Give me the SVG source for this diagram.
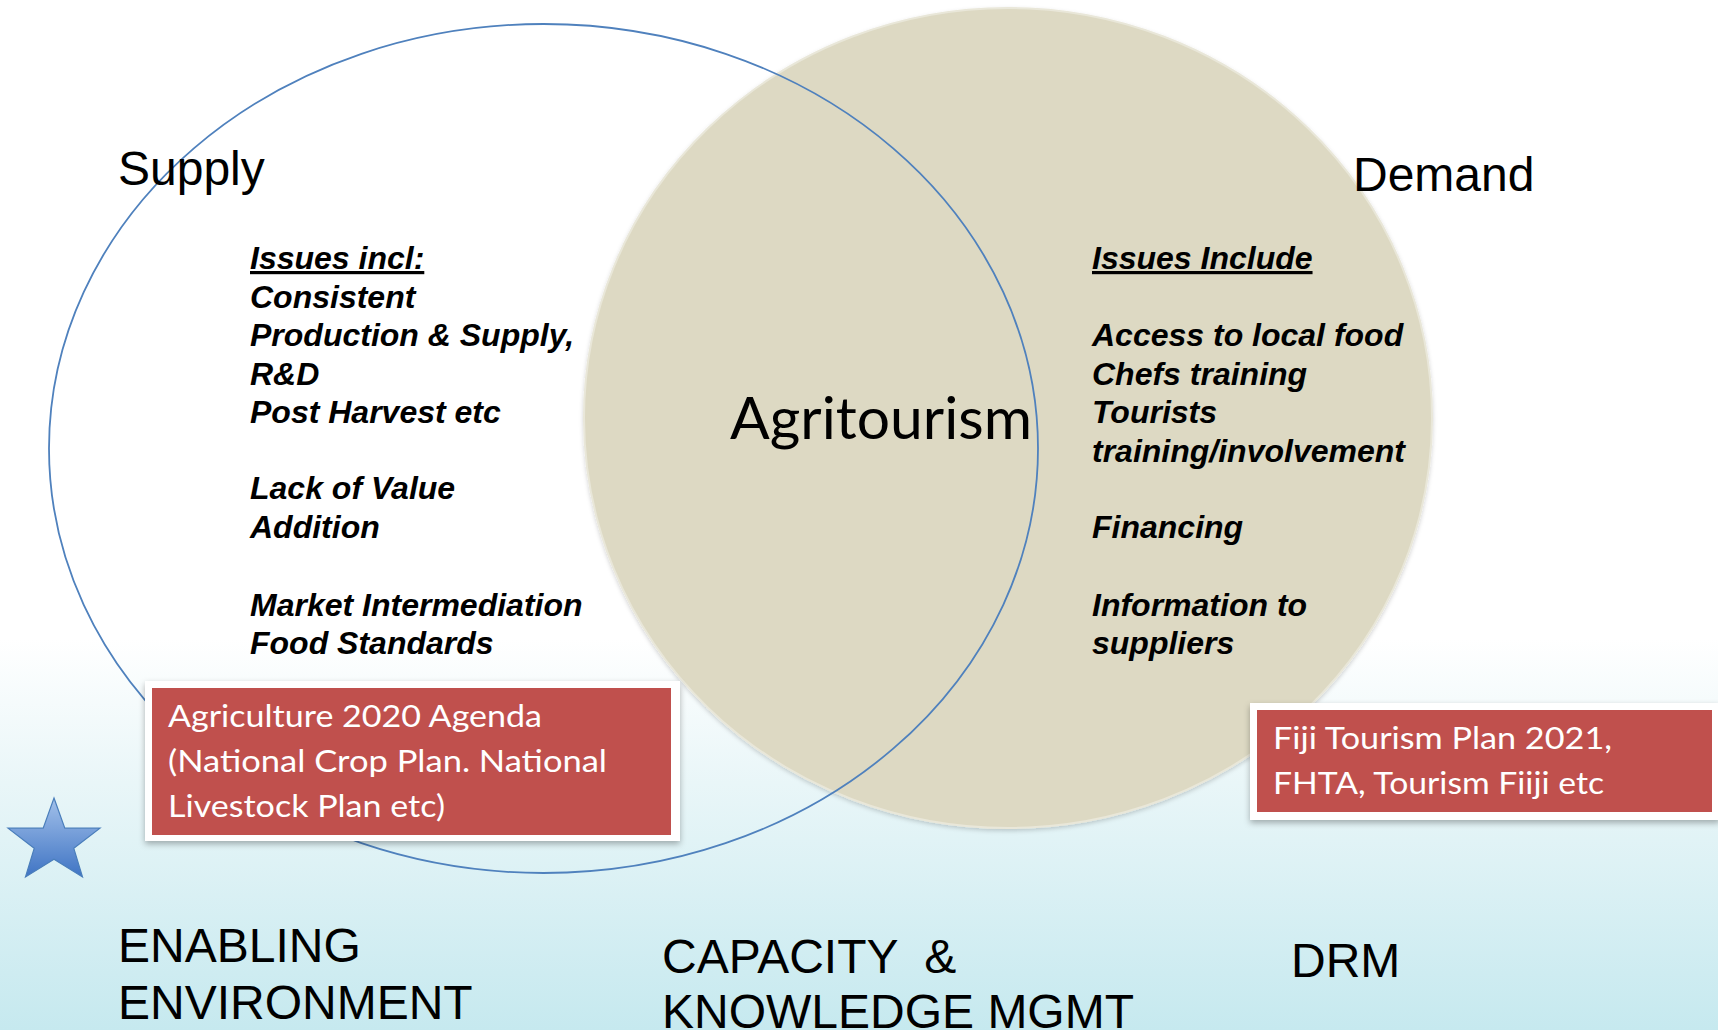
<svg xmlns="http://www.w3.org/2000/svg" width="1718" height="1030" viewBox="0 0 1718 1030">
  <style>
    .hd { font-family: "Liberation Sans", Arial, sans-serif; font-size: 48px; fill: #000; }
    .iss { font-family: "Liberation Sans", Arial, sans-serif; font-size: 32px; font-weight: bold; font-style: italic; fill: #000; }
    .cal { font-family: Lato, "Open Sans", sans-serif; fill: #fff; font-size: 31px; }
    .big { font-family: Lato, "Open Sans", sans-serif; font-size: 58px; fill: #000; }
    .pre { white-space: pre; }
  </style>
  <defs>
    <linearGradient id="bg" x1="0" y1="0" x2="0" y2="1">
      <stop offset="0" stop-color="#ffffff"/>
      <stop offset="0.62" stop-color="#ffffff"/>
      <stop offset="0.76" stop-color="#e9f6f8"/>
      <stop offset="1" stop-color="#c6e9ef"/>
    </linearGradient>
    <linearGradient id="starFill" x1="0" y1="0" x2="0" y2="1">
      <stop offset="0" stop-color="#a3c1ea"/>
      <stop offset="1" stop-color="#3f74c4"/>
    </linearGradient>
    <filter id="shadow" x="-10%" y="-10%" width="120%" height="130%">
      <feDropShadow dx="0" dy="3" stdDeviation="3" flood-color="#000" flood-opacity="0.3"/>
    </filter>
    <filter id="soft" x="-5%" y="-5%" width="110%" height="110%">
      <feDropShadow dx="0" dy="2" stdDeviation="2" flood-color="#000" flood-opacity="0.18"/>
    </filter>
  </defs>

  <rect x="0" y="0" width="1718" height="1030" fill="url(#bg)"/>

  <g id="demand-circle" filter="url(#soft)">
    <ellipse cx="1008" cy="418" rx="424" ry="410" fill="#ddd9c3" stroke="#e9e7d9" stroke-width="2"/>
  </g>

  <g id="supply-circle">
    <ellipse cx="543.5" cy="448.5" rx="494.5" ry="424.5" fill="none" stroke="#4f81bd" stroke-width="1.8"/>
  </g>

  <g id="connectors"></g>

  <g id="supply-label">
    <text class="hd" x="118" y="185">Supply</text>
  </g>
  <g id="demand-label">
    <text class="hd" x="1353" y="191">Demand</text>
  </g>

  <g id="agritourism">
    <text class="big" x="730" y="439" textLength="302" lengthAdjust="spacingAndGlyphs">Agritourism</text>
  </g>

  <g id="supply-issues">
    <text class="iss" x="250" y="269" text-decoration="underline">Issues incl:</text>
    <text class="iss" x="250" y="307.5">Consistent</text>
    <text class="iss" x="250" y="346">Production &amp; Supply,</text>
    <text class="iss" x="250" y="384.5">R&amp;D</text>
    <text class="iss" x="250" y="423">Post Harvest etc</text>
    <text class="iss" x="250" y="499">Lack of Value</text>
    <text class="iss" x="250" y="537.5">Addition</text>
    <text class="iss" x="250" y="615.5">Market Intermediation</text>
    <text class="iss" x="250" y="654">Food Standards</text>
  </g>

  <g id="demand-issues">
    <text class="iss" x="1092" y="269" text-decoration="underline">Issues Include</text>
    <text class="iss" x="1092" y="346">Access to local food</text>
    <text class="iss" x="1092" y="384.5">Chefs training</text>
    <text class="iss" x="1092" y="423">Tourists</text>
    <text class="iss" x="1092" y="461.5">training/involvement</text>
    <text class="iss" x="1092" y="537.5">Financing</text>
    <text class="iss" x="1092" y="615.5">Information to</text>
    <text class="iss" x="1092" y="654">suppliers</text>
  </g>

  <g id="agri-agenda-box">
    <rect x="145" y="681" width="535" height="160" fill="#ffffff" filter="url(#shadow)"/>
    <rect x="152" y="688" width="519" height="147" fill="#c0504d"/>
    <text class="cal" x="168" y="727" textLength="374" lengthAdjust="spacingAndGlyphs">Agriculture 2020 Agenda</text>
    <text class="cal" x="168" y="772" textLength="439" lengthAdjust="spacingAndGlyphs">(National Crop Plan. National</text>
    <text class="cal" x="168" y="817" textLength="277" lengthAdjust="spacingAndGlyphs">Livestock Plan etc)</text>
  </g>

  <g id="tourism-plan-box">
    <rect x="1250" y="703" width="470" height="117" fill="#ffffff" filter="url(#shadow)"/>
    <rect x="1257" y="710" width="455" height="102" fill="#c0504d"/>
    <text class="cal" x="1273" y="749" textLength="339" lengthAdjust="spacingAndGlyphs">Fiji Tourism Plan 2021,</text>
    <text class="cal" x="1273" y="794" textLength="331" lengthAdjust="spacingAndGlyphs">FHTA, Tourism Fiiji etc</text>
  </g>

  <g id="star">
    <polygon points="54,798 64.8,828.2 100,828.2 73.8,848.3 82.5,877 54,859.3 25.5,877 34.2,848.3 8,828.2 43.2,828.2"
             fill="url(#starFill)" stroke="#4a7ebb" stroke-width="1.2" stroke-linejoin="miter"/>
  </g>

  <g id="enabling-environment">
    <text class="hd" x="118" y="962">ENABLING</text>
    <text class="hd" x="118" y="1019">ENVIRONMENT</text>
  </g>
  <g id="capacity-knowledge">
    <text class="hd pre" x="662" y="973">CAPACITY  &amp;</text>
    <text class="hd" x="662" y="1028">KNOWLEDGE MGMT</text>
  </g>
  <g id="drm">
    <text class="hd" x="1291" y="977">DRM</text>
  </g>
</svg>
